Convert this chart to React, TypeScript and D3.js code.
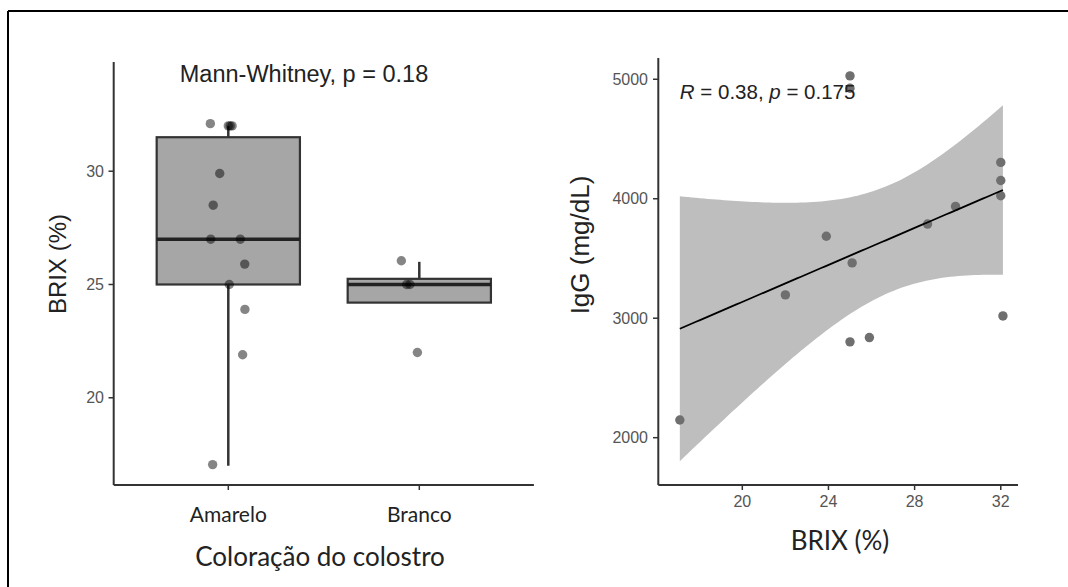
import React from "react";
import * as d3 from "d3";

// left panel: BRIX by colostrum colour
const categories = ["Amarelo", "Branco"];
// [whisker low, q1, median, q3, whisker high]
const boxAmarelo = [17, 25, 27, 31.5, 32];
const boxBranco = [24.2, 24.2, 25, 25.25, 26];
const brixAmarelo = [32.1, 32, 32, 32, 29.9, 28.5, 27, 27, 25.9, 25, 23.9, 21.9, 17.05];
const jitterAmarelo = [-0.094, 0, 0.01, 0.02, -0.045, -0.079, -0.092, 0.063, 0.086, 0.005, 0.087, 0.075, -0.082];
const brixBranco = [26.05, 25, 25, 22];
const jitterBranco = [-0.094, -0.066, -0.049, -0.01];
const leftTicks = [20, 25, 30];

// right panel: IgG vs BRIX
const brix = [17.1, 22, 23.9, 25, 25, 25, 25.1, 25.9, 28.6, 29.9, 32, 32, 32, 32.1];
const igg = [2148, 3195, 3686, 5028, 4925, 2802, 3463, 2838, 3788, 3936, 4304, 4153, 4025, 3019];
const brixTicks = [20, 24, 28, 32];
const iggTicks = [2000, 3000, 4000, 5000];

const T_975_DF12 = 2.179;
const sans = "'Liberation Sans', Arial, sans-serif";
const narrow = "Lato, 'Open Sans', sans-serif";

function fitLine(xs: number[], ys: number[]) {
  const n = xs.length;
  const mx = d3.mean(xs) as number;
  const my = d3.mean(ys) as number;
  const sxx = d3.sum(xs, (x) => (x - mx) ** 2);
  const sxy = d3.sum(xs, (x, i) => (x - mx) * (ys[i] - my));
  const b = sxy / sxx;
  const a = my - b * mx;
  const rss = d3.sum(xs, (x, i) => (ys[i] - (a + b * x)) ** 2);
  const s = Math.sqrt(rss / (n - 2));
  const [x0, x1] = d3.extent(xs) as [number, number];
  const grid = d3.range(0, 81).map((k) => x0 + ((x1 - x0) * k) / 80);
  return grid.map((x) => {
    const se = s * Math.sqrt(1 / n + (x - mx) ** 2 / sxx);
    const y = a + b * x;
    return { x, y, lo: y - T_975_DF12 * se, hi: y + T_975_DF12 * se };
  });
}

export default function App() {
  const W = 1068, H = 587;

  // left scales
  const xL = d3.scalePoint<string>().domain(categories).range([113.7, 533.9]).padding(0.6);
  const yL = d3.scaleLinear().domain([16.15, 34.82]).range([485, 62]);
  const step = xL.step();
  const bw = step * 0.75;
  const boxes = [boxAmarelo, boxBranco];
  const pts = [
    brixAmarelo.map((v, i) => ({ v, j: jitterAmarelo[i], c: categories[0] })),
    brixBranco.map((v, i) => ({ v, j: jitterBranco[i], c: categories[1] })),
  ].flat();

  // right scales
  const xR = d3.scaleLinear().domain([16.1, 32.8]).range([658.3, 1018]);
  const yR = d3.scaleLinear().domain([1604, 5178]).range([485, 58]);
  const fit = fitLine(brix, igg);
  const band = d3.area<any>().x((d) => xR(d.x)).y0((d) => yR(d.lo)).y1((d) => yR(d.hi));
  const line = d3.line<any>().x((d) => xR(d.x)).y((d) => yR(d.y));

  const axisCol = "#333";
  const tickCol = "#555";

  return (
    <div>
      <style>{`body{margin:0}`}</style>
      <svg width={W} height={H} style={{ display: "block", background: "#fff" }}>
        {/* frame */}
        <line x1={8} y1={11} x2={8} y2={H} stroke="#000" strokeWidth={2} />
        <line x1={8} y1={11} x2={W} y2={11} stroke="#000" strokeWidth={2} />

        {/* ---- left panel ---- */}
        <g>
          {boxes.map((b, i) => {
            const cx = xL(categories[i]) as number;
            return (
              <g key={i}>
                <line x1={cx} x2={cx} y1={yL(b[4])} y2={yL(b[3])} stroke={axisCol} strokeWidth={2.5} />
                <line x1={cx} x2={cx} y1={yL(b[1])} y2={yL(b[0])} stroke={axisCol} strokeWidth={2.5} />
                <rect x={cx - bw / 2} y={yL(b[3])} width={bw} height={yL(b[1]) - yL(b[3])}
                  fill="#a6a6a6" stroke={axisCol} strokeWidth={2.2} />
                <line x1={cx - bw / 2} x2={cx + bw / 2} y1={yL(b[2])} y2={yL(b[2])} stroke="#222" strokeWidth={3.5} />
              </g>
            );
          })}
          {pts.map((p, i) => (
            <circle key={i} cx={(xL(p.c) as number) + p.j * step} cy={yL(p.v)} r={4.7}
              fill="#000" fillOpacity={0.48} />
          ))}
          <line x1={113.7} x2={113.7} y1={62} y2={485} stroke={axisCol} strokeWidth={2} />
          <line x1={113.7} x2={533.9} y1={485} y2={485} stroke={axisCol} strokeWidth={2} />
          {leftTicks.map((t) => (
            <g key={t}>
              <line x1={108.5} x2={113.7} y1={yL(t)} y2={yL(t)} stroke={axisCol} strokeWidth={1.5} />
              <text x={104} y={yL(t)} dy="0.35em" textAnchor="end" fontFamily={sans} fontSize={16} fill={tickCol}>{t}</text>
            </g>
          ))}
          {categories.map((c) => (
            <g key={c}>
              <line x1={xL(c)} x2={xL(c)} y1={485} y2={490} stroke={axisCol} strokeWidth={1.5} />
              <text x={xL(c)} y={522} textAnchor="middle" fontFamily={narrow} fontSize={21} fill="#222">{c}</text>
            </g>
          ))}
          <text x={320} y={566} textAnchor="middle" fontFamily={narrow} fontSize={26} fill="#222">Coloração do colostro</text>
          <text transform="translate(66,264) rotate(-90)" textAnchor="middle" fontFamily={sans} fontSize={24} fill="#222">BRIX (%)</text>
          <text x={304} y={82} textAnchor="middle" fontFamily={sans} fontSize={23.5} fill="#222">Mann-Whitney, p = 0.18</text>
        </g>

        {/* ---- right panel ---- */}
        <g>
          <path d={band(fit) as string} fill="#bebebe" />
          {brix.map((x, i) => (
            <circle key={i} cx={xR(x)} cy={yR(igg[i])} r={4.7} fill="#6f6f6f" />
          ))}
          <path d={line(fit) as string} fill="none" stroke="#000" strokeWidth={1.8} />
          <line x1={658.3} x2={658.3} y1={58} y2={485} stroke={axisCol} strokeWidth={2} />
          <line x1={658.3} x2={1018} y1={485} y2={485} stroke={axisCol} strokeWidth={2} />
          {iggTicks.map((t) => (
            <g key={t}>
              <line x1={653} x2={658.3} y1={yR(t)} y2={yR(t)} stroke={axisCol} strokeWidth={1.5} />
              <text x={648} y={yR(t)} dy="0.35em" textAnchor="end" fontFamily={sans} fontSize={16} fill={tickCol}>{t}</text>
            </g>
          ))}
          {brixTicks.map((t) => (
            <g key={t}>
              <line x1={xR(t)} x2={xR(t)} y1={485} y2={490} stroke={axisCol} strokeWidth={1.5} />
              <text x={xR(t)} y={507} textAnchor="middle" fontFamily={sans} fontSize={16} fill={tickCol}>{t}</text>
            </g>
          ))}
          <text x={840} y={550} textAnchor="middle" fontFamily={narrow} fontSize={26} fill="#222">BRIX (%)</text>
          <text transform="translate(589,245) rotate(-90)" textAnchor="middle" fontFamily={sans} fontSize={26} fill="#222">IgG (mg/dL)</text>
          <text x={xR(d3.min(brix) as number)} y={99} fontFamily={sans} fontSize={20.5} fill="#222">
            <tspan fontStyle="italic">R</tspan> = 0.38, <tspan fontStyle="italic">p</tspan> = 0.175
          </text>
        </g>
      </svg>
    </div>
  );
}
